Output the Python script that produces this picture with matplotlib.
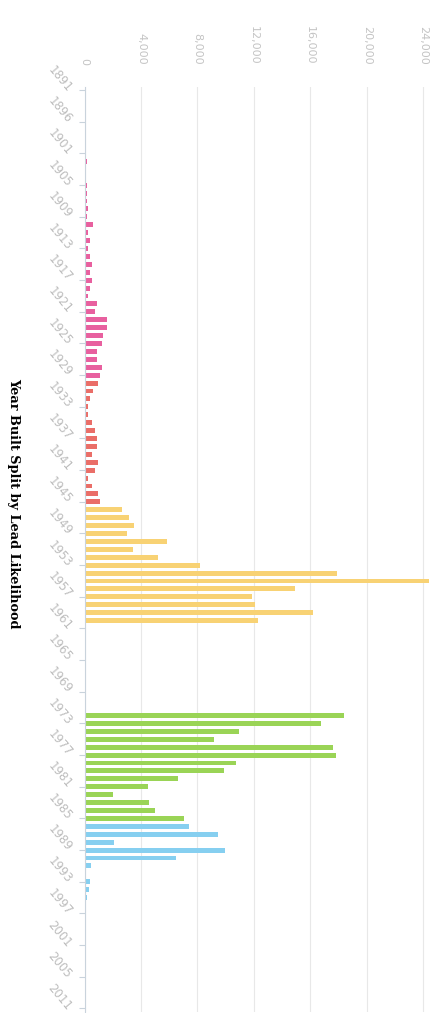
import matplotlib
matplotlib.use("Agg")
import matplotlib.pyplot as plt

# categories (year built) - the axis is categorical, a few early/late years are absent
years = [1891, 1893, 1894, 1895, 1896, 1897, 1898, 1899] + list(range(1901, 2006)) + [2006, 2007, 2009, 2011]

# number of homes per year
counts_1891_1904 = [40, 0, 30, 0, 50, 0, 40, 60, 120, 150, 100, 130]
counts_1905_1945 = [150, 150, 150, 270, 150, 625, 270, 390, 270, 390,
                    510, 390, 510, 390, 270, 860, 740, 1570, 1570, 1330,
                    1215, 860, 860, 1215, 1100, 980, 625, 390, 270, 270,
                    510, 740, 860, 860, 510, 980, 740, 270, 510, 980,
                    1100]
counts_1946_1960 = [2670, 3140, 3490, 3020, 5850, 3470, 5240, 8200, 17900, 24400,
                    14900, 11900, 12100, 16200, 12300]
counts_1961_1971 = [0] * 11
counts_1972_1985 = [18400, 16750, 10970, 9200, 17580, 17820, 10740, 9900, 6600, 4480,
                    2000, 4600, 4960, 7080]
counts_1986_2011 = [7430, 9440, 2120, 9960, 6490, 450, 120, 400, 350, 150,
                    100, 80, 0, 0, 0, 0, 0, 0, 0, 0,
                    0, 0, 0, 0]

counts = (counts_1891_1904 + counts_1905_1945 + counts_1946_1960 +
          counts_1961_1971 + counts_1972_1985 + counts_1986_2011)

# lead likelihood groups (last year of each group)
group_ends = [1929, 1945, 1971, 1985, 2011]
group_colors = ['#e8609f', '#ea6e68', '#f8d274', '#9ad456', '#86cff0']


def color_for(y):
    for end, c in zip(group_ends, group_colors):
        if y <= end:
            return c
    return group_colors[-1]


colors = [color_for(y) for y in years]
idx = list(range(len(years)))

fig = plt.figure(figsize=(4.45, 10.13), dpi=100)
ax = fig.add_axes([84.5 / 445, 1 - 1012 / 1013, 350 / 445, (1012 - 87) / 1013])

ax.barh(idx, counts, height=0.62, color=colors, zorder=2)
ax.set_ylim(len(years) - 0.55, -0.4)
ax.set_xlim(0, 24800)

ax.xaxis.tick_top()
xt = list(range(0, 24001, 4000))
ax.set_xticks(xt)
ax.set_xticklabels([f'{v:,}' for v in xt], rotation=-90, color='#c4c4c4', fontsize=8)
ax.tick_params(axis='x', length=0, pad=16)
ax.grid(axis='x', color='#9a9a9a', alpha=0.22, lw=0.8, zorder=3)

ax.set_yticks(idx[::4])
ax.set_yticklabels([str(y) for y in years[::4]], rotation=-50, ha='right', va='center',
                   rotation_mode='anchor', color='#bdbdbd', fontsize=8.5)
ax.tick_params(axis='y', length=4, color='#c9d3dc', pad=7)

for s in ['top', 'right', 'bottom']:
    ax.spines[s].set_visible(False)
ax.spines['left'].set_color('#c9d3dc')

fig.text(14 / 445, 1 - 503 / 1013, 'Year Built Split by Lead Likelihood', rotation=-90,
         fontweight='bold', family='DejaVu Serif', fontsize=9.3, ha='center', va='center')

fig.savefig('out.png', dpi=100)
